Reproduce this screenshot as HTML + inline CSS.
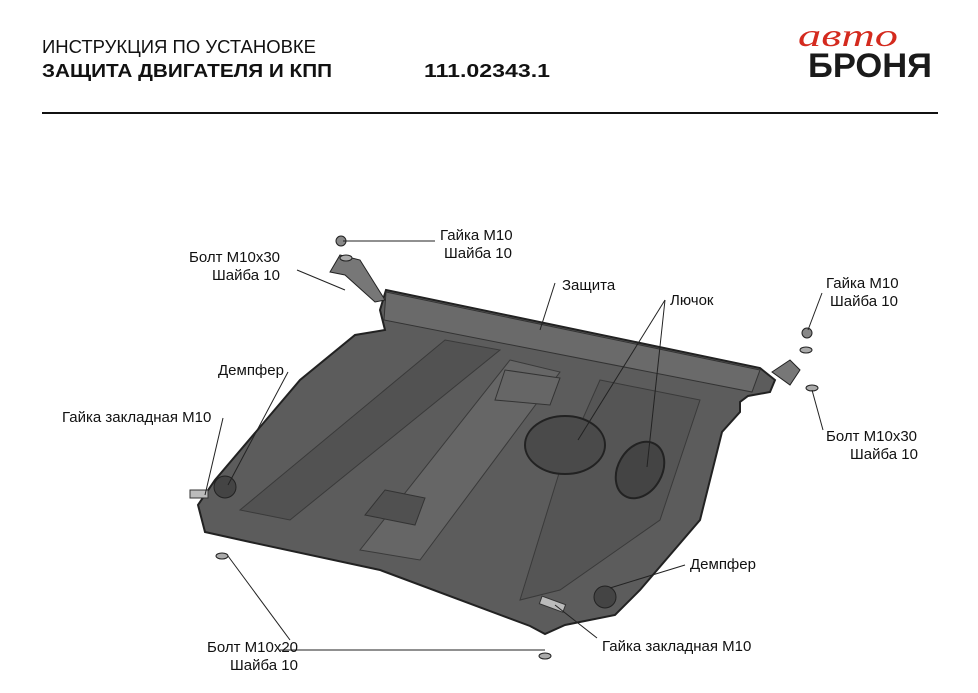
<!DOCTYPE html>
<html><head><meta charset="utf-8"><style>
body{margin:0;background:#fff;width:978px;height:688px;overflow:hidden;font-family:"Liberation Sans",sans-serif}
</style></head><body>
<svg width="978" height="688" viewBox="0 0 978 688" xmlns="http://www.w3.org/2000/svg" font-family="Liberation Sans, sans-serif">
<text x="42" y="53" font-size="18" fill="#111" textLength="274" lengthAdjust="spacingAndGlyphs">ИНСТРУКЦИЯ ПО УСТАНОВКЕ</text>
<text x="42" y="77" font-size="18" font-weight="bold" fill="#111" textLength="290" lengthAdjust="spacingAndGlyphs">ЗАЩИТА ДВИГАТЕЛЯ И КПП</text>
<text x="424" y="77" font-size="18" font-weight="bold" fill="#111" textLength="126" lengthAdjust="spacingAndGlyphs">111.02343.1</text>
<line x1="42" y1="113" x2="938" y2="113" stroke="#111" stroke-width="2"/>
<text x="798" y="46" font-size="32" font-style="italic" fill="#d42a1e" font-family="Liberation Serif, serif" textLength="100" lengthAdjust="spacingAndGlyphs">авто</text>
<text x="808" y="77" font-size="34" font-weight="bold" fill="#1a1a1a" textLength="124" lengthAdjust="spacingAndGlyphs">БРОНЯ</text>

<path d="M386,290 L760,368 L775,380 L770,392 L748,396 L740,402 L740,412 L722,432 L700,520 L640,590 L615,615 L565,625 L545,634 L530,626 L380,570 L250,542 L205,532 L198,505 L215,480 L300,380 L355,335 L385,330 L380,310 Z" fill="#5c5c5c" stroke="#222" stroke-width="2"/>
<path d="M386,292 L760,370 L752,392 L384,320 Z" fill="#6a6a6a" stroke="#333"/>
<path d="M340,255 L360,260 L385,300 L375,302 L345,275 L330,272 Z" fill="#777" stroke="#222"/>
<path d="M772,372 L790,360 L800,370 L790,385 Z" fill="#777" stroke="#222"/>
<path d="M445,340 L500,350 L290,520 L240,510 Z" fill="#525252" stroke="#3a3a3a"/>
<path d="M510,360 L560,372 L420,560 L360,550 Z" fill="#666" stroke="#3a3a3a"/>
<path d="M600,380 L700,400 L660,520 L560,590 L520,600 L560,470 Z" fill="#555" stroke="#3a3a3a"/>
<path d="M505,370 L560,378 L550,405 L495,400 Z" fill="#666" stroke="#333"/>
<ellipse cx="565" cy="445" rx="40" ry="29" fill="#4a4a4a" stroke="#222" stroke-width="2"/>
<ellipse cx="640" cy="470" rx="22" ry="30" transform="rotate(30 640 470)" fill="#444" stroke="#222" stroke-width="2"/>
<path d="M385,490 L425,498 L415,525 L365,515 Z" fill="#505050" stroke="#333"/>
<circle cx="225" cy="487" r="11" fill="#444" stroke="#222"/>
<circle cx="605" cy="597" r="11" fill="#444" stroke="#222"/>
<rect x="190" y="490" width="18" height="8" fill="#bbb" stroke="#333"/>
<rect x="540" y="600" width="25" height="8" fill="#bbb" stroke="#333" transform="rotate(20 552 604)"/>
<circle cx="341" cy="241" r="5" fill="#888" stroke="#222"/>
<ellipse cx="346" cy="258" rx="6" ry="3" fill="#aaa" stroke="#222"/>
<circle cx="807" cy="333" r="5" fill="#888" stroke="#222"/>
<ellipse cx="806" cy="350" rx="6" ry="3" fill="#aaa" stroke="#222"/>
<ellipse cx="812" cy="388" rx="6" ry="3" fill="#aaa" stroke="#222"/>
<ellipse cx="222" cy="556" rx="6" ry="3" fill="#aaa" stroke="#222"/>
<ellipse cx="545" cy="656" rx="6" ry="3" fill="#aaa" stroke="#222"/>
<g stroke="#222" stroke-width="1" fill="none">
<line x1="343" y1="241" x2="435" y2="241"/>
<line x1="297" y1="270" x2="345" y2="290"/>
<line x1="555" y1="283" x2="540" y2="330"/>
<line x1="665" y1="300" x2="578" y2="440"/>
<line x1="665" y1="300" x2="647" y2="467"/>
<line x1="822" y1="293" x2="808" y2="330"/>
<line x1="823" y1="430" x2="812" y2="390"/>
<line x1="288" y1="372" x2="228" y2="485"/>
<line x1="223" y1="418" x2="205" y2="495"/>
<line x1="685" y1="565" x2="610" y2="588"/>
<line x1="597" y1="638" x2="555" y2="605"/>
<line x1="228" y1="556" x2="290" y2="640"/>
<line x1="280" y1="650" x2="545" y2="650"/>
</g>
<g font-size="15" fill="#111">
<text x="440" y="240">Гайка М10</text>
<text x="444" y="258">Шайба 10</text>
<text x="189" y="262">Болт М10х30</text>
<text x="212" y="280">Шайба 10</text>
<text x="562" y="290">Защита</text>
<text x="670" y="305">Лючок</text>
<text x="826" y="288">Гайка М10</text>
<text x="830" y="306">Шайба 10</text>
<text x="218" y="375">Демпфер</text>
<text x="62" y="422">Гайка закладная М10</text>
<text x="826" y="441">Болт М10х30</text>
<text x="850" y="459">Шайба 10</text>
<text x="690" y="569">Демпфер</text>
<text x="602" y="651">Гайка закладная М10</text>
<text x="207" y="652">Болт М10х20</text>
<text x="230" y="670">Шайба 10</text>
</g>
</svg>
</body></html>
